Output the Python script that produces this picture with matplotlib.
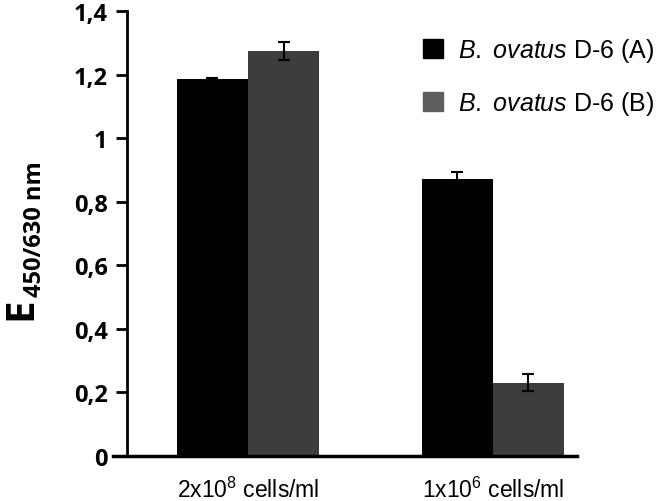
import matplotlib
matplotlib.use("Agg")
import matplotlib.pyplot as plt
import numpy as np
from matplotlib.patches import Rectangle

categories = ["2x10$^8$ cells/ml", "1x10$^6$ cells/ml"]
series_names = [r"$\it{B.\ ovatus}$ D-6 (A)", r"$\it{B.\ ovatus}$ D-6 (B)"]
values_a = [1.185, 0.870]
values_b = [1.274, 0.230]
err_a = [0.004, 0.025]
err_b = [0.028, 0.027]
yticks = [0, 0.2, 0.4, 0.6, 0.8, 1.0, 1.2, 1.4]
ytick_labels = ["0", "0,2", "0,4", "0,6", "0,8", "1", "1,2", "1,4"]
colors = ["#000000", "#3d3d3d"]
legend_colors = ["#000000", "#5e5e5e"]

plt.rcParams['mathtext.fontset'] = 'custom'
plt.rcParams['mathtext.it'] = 'Liberation Sans:italic'
plt.rcParams['mathtext.rm'] = 'Liberation Sans'

fig = plt.figure(figsize=(6.61, 5.02), dpi=100)
ax = fig.add_axes([127/661, 1-457/502, (577-127)/661, (457-12)/502])

x = np.arange(len(categories))
w = 0.29
ax.bar(x - w/2, values_a, w, color=colors[0], yerr=err_a,
       error_kw=dict(ecolor='black', elinewidth=1.5, capsize=4, capthick=1.5))
ax.bar(x + w/2, values_b, w, color=colors[1], yerr=err_b,
       error_kw=dict(ecolor='black', elinewidth=1.5, capsize=4, capthick=1.5))

ax.set_xlim(-0.494, 1.343)
ax.set_ylim(0, 1.4)
ax.set_yticks(yticks)
ax.set_yticklabels(ytick_labels, fontfamily='Open Sans', fontweight='bold', fontsize=17)
ax.tick_params(axis='y', length=8, width=2, pad=6)
ax.set_xticks(x)
ax.set_xticklabels(categories, fontfamily='Liberation Sans', fontsize=16.5)
ax.tick_params(axis='x', length=0, pad=15)
for s in ['top', 'right']:
    ax.spines[s].set_visible(False)
ax.spines['left'].set_linewidth(2)
ax.spines['bottom'].set_linewidth(2.5)
ax.spines['bottom'].set_bounds(-0.55, 1.343)
ax.spines['bottom'].set_clip_on(False)

fig.text(21/661, 1-309/502, r"E", fontfamily='Open Sans', fontweight='bold',
         fontsize=29, rotation=90, ha='center', va='center')
fig.text(35/661, 1-229/502, r"450/630 nm", fontfamily='Open Sans', fontweight='bold',
         fontsize=17, rotation=90, ha='center', va='center')

handles = [Rectangle((0, 0), 1, 1, color=c) for c in legend_colors]
ax.legend(handles, series_names, loc='upper left', bbox_to_anchor=(423/661, 1-37/502),
          bbox_transform=fig.transFigure, frameon=False,
          prop=dict(family='Liberation Sans', size=18), handlelength=0.8, handleheight=0.8,
          handletextpad=0.6, labelspacing=1.0, borderaxespad=0, borderpad=0)

fig.savefig("out.png", dpi=100)
